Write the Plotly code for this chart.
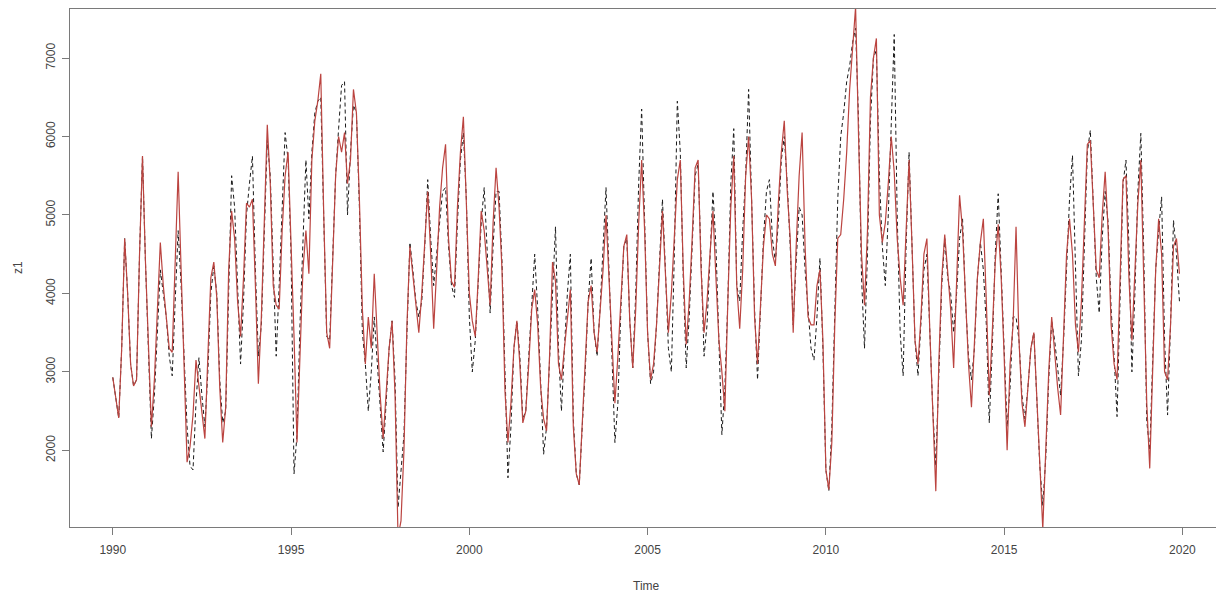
import plotly.graph_objects as go

# Monthly series, Jan 1990 .. Dec 2019
start_year = 1990
months_per_year = 12

# black dashed series (z1)
z1 = [
    2930, 2700, 2412, 3300, 4700, 4000, 3100, 2820, 2900, 4500, 5750, 4400,  # 1990
    3300, 2150, 2700, 3600, 4300, 4000, 3700, 3200, 2950, 3900, 4800, 4100,  # 1991
    3100, 2300, 1800, 1750, 2600, 3180, 2700, 2300, 3000, 4000, 4350, 4000,  # 1992
    2900, 2350, 2500, 4200, 5500, 5100, 4100, 3100, 3900, 5000, 5400, 5750,  # 1993
    4300, 3200, 3600, 4700, 5950, 5500, 4300, 3200, 4100, 5200, 6050, 5700,  # 1994
    4500, 1700, 2200, 3600, 4700, 5700, 4950, 5800, 6300, 6450, 6500, 5100,  # 1995
    3450, 3400, 4500, 5500, 6100, 6650, 6700, 5000, 5800, 6400, 6300, 5100,  # 1996
    3500, 3100, 2500, 3000, 3700, 3100, 2500, 1980, 2600, 3300, 3650, 2900,  # 1997
    1270, 1750, 2200, 3500, 4650, 4300, 3900, 3700, 3900, 4600, 5450, 4700,  # 1998
    4100, 4500, 4900, 5300, 5350, 4600, 4100, 3950, 4900, 5700, 6050, 5200,  # 1999
    3700, 3000, 3400, 4100, 4900, 5350, 4500, 3750, 4600, 5300, 5300, 4400,  # 2000
    3000, 1650, 2300, 3300, 3650, 3200, 2400, 2500, 3200, 3800, 4500, 3800,  # 2001
    2800, 1950, 2300, 3200, 4000, 4850, 3300, 2500, 3300, 4000, 4500, 2400,  # 2002
    1700, 1560, 2300, 3000, 3900, 4450, 3500, 3200, 3800, 4500, 5350, 4300,  # 2003
    3300, 2100, 2600, 3800, 4600, 4700, 3650, 3050, 4000, 5400, 6350, 5000,  # 2004
    3500, 2850, 3000, 3600, 4500, 5200, 4300, 3300, 3000, 4500, 6450, 5800,  # 2005
    4200, 3050, 3700, 4600, 5500, 5650, 4300, 3200, 3600, 4400, 5300, 4600,  # 2006
    3500, 2200, 2800, 3900, 5400, 6100, 4100, 3900, 4800, 5500, 6600, 5300,  # 2007
    3800, 2900, 3800, 4700, 5300, 5450, 4700, 4400, 4900, 5700, 6000, 5400,  # 2008
    4600, 3600, 4400, 5100, 5000, 4300, 3800, 3300, 3150, 3700, 4450, 3300,  # 2009
    1750, 1480, 2300, 3700, 5200, 6000, 6300, 6700, 6900, 7200, 7380, 6200,  # 2010
    4200, 3300, 4500, 6200, 7000, 7100, 5500, 4600, 4100, 5000, 6300, 7300,  # 2011
    5000, 3500, 2950, 4600, 5800, 4500, 3400, 2950, 3600, 4300, 4500, 3500,  # 2012
    2500, 1800, 3000, 4100, 4700, 4200, 4000, 3500, 4000, 4700, 4950, 3900,  # 2013
    3200, 2900, 3300, 4200, 4650, 4300, 3600, 2350, 3300, 4500, 5270, 4200,  # 2014
    3200, 2300, 2800, 3700, 3700, 3400, 2700, 2400, 2800, 3300, 3500, 2700,  # 2015
    1800, 1300, 1900, 2900, 3650, 3400, 3000, 2700, 3400, 4400, 5200, 5760,  # 2016
    4400, 2950, 3400, 4700, 5800, 6080, 5100, 4200, 3750, 4700, 5300, 4900,  # 2017
    3800, 3200, 2430, 4000, 5400, 5700, 4600, 3000, 4000, 5300, 6040, 4500,  # 2018
    2370, 2000, 3100, 4300, 4800, 5230, 3400, 2450, 3600, 4930, 4500, 3900,  # 2019
]

# red solid series (fitted)
fitted = [
    2930, 2700, 2412, 3300, 4700, 4000, 3100, 2820, 2900, 4500, 5750, 4400,  # 1990
    3350, 2300, 2900, 3900, 4650, 4100, 3650, 3300, 3250, 4500, 5550, 4300,  # 1991
    2950, 1850, 2050, 2450, 3150, 2800, 2450, 2150, 3200, 4200, 4400, 3950,  # 1992
    2800, 2100, 2550, 4300, 5050, 4700, 3900, 3450, 4200, 5150, 5100, 5200,  # 1993
    4100, 2850, 3700, 4900, 6150, 5400, 4100, 3850, 3800, 4800, 5500, 5800,  # 1994
    4700, 3450, 2100, 3200, 4300, 4800, 4250, 5700, 6200, 6450, 6800, 5000,  # 1995
    3500, 3300, 4500, 5500, 6000, 5800, 6050, 5400, 5700, 6600, 6300, 5200,  # 1996
    3800, 3100, 3700, 3300, 4250, 3500, 2700, 2150, 2700, 3300, 3650, 2700,  # 1997
    900, 1100, 2000, 3600, 4600, 4200, 3800, 3500, 4000, 4700, 5300, 4500,   # 1998
    3550, 4300, 5100, 5600, 5900, 4700, 4150, 4080, 5100, 5800, 6250, 5150,  # 1999
    4000, 3650, 3450, 4200, 5050, 4800, 4300, 3850, 4900, 5600, 5100, 4300,  # 2000
    2750, 2100, 2600, 3300, 3650, 3100, 2350, 2500, 3100, 3800, 4050, 3600,  # 2001
    2800, 2400, 2250, 3200, 4400, 4150, 3100, 2900, 3300, 3700, 4050, 2300,  # 2002
    1700, 1560, 2300, 3100, 3900, 4100, 3500, 3250, 3800, 4300, 5000, 4200,  # 2003
    3400, 2600, 3200, 3900, 4600, 4750, 3650, 3050, 3800, 4900, 5700, 4800,  # 2004
    3500, 2900, 3100, 3600, 4400, 5050, 4250, 3500, 4000, 4700, 5450, 5700,  # 2005
    4300, 3350, 3900, 4700, 5600, 5700, 4300, 3500, 3900, 4500, 5050, 4200,  # 2006
    3400, 3000, 2500, 3900, 5100, 5750, 4100, 3550, 4300, 5500, 6000, 5200,  # 2007
    3700, 3100, 3900, 4600, 5000, 4950, 4500, 4350, 5150, 5800, 6200, 5300,  # 2008
    4700, 3500, 4600, 5500, 6050, 4600, 3700, 3600, 3600, 4100, 4300, 3400,  # 2009
    1750, 1500, 2100, 3600, 4700, 4750, 5200, 5800, 6600, 7200, 7650, 6000,  # 2010
    4500, 3850, 4800, 6500, 7000, 7250, 5000, 4650, 4900, 5400, 6000, 5550,  # 2011
    4700, 4200, 3850, 4800, 5700, 4600, 3400, 3100, 3700, 4500, 4700, 3500,  # 2012
    2400, 1480, 3100, 4200, 4750, 4300, 3800, 3050, 4200, 5250, 4800, 3850,  # 2013
    3100, 2550, 3400, 4200, 4650, 4950, 3900, 2700, 3500, 4400, 4880, 4200,  # 2014
    3200, 2000, 3100, 3600, 4850, 3400, 2600, 2300, 2800, 3300, 3500, 2700,  # 2015
    1900, 1000, 2000, 3000, 3700, 3200, 2800, 2450, 3600, 4500, 4950, 4500,  # 2016
    3600, 3250, 3900, 5000, 5900, 5950, 5100, 4300, 4200, 5000, 5550, 4800,  # 2017
    3600, 3100, 2900, 4300, 5450, 5500, 4200, 3400, 4300, 5150, 5700, 4300,  # 2018
    2600, 1770, 3000, 4300, 4950, 4500, 3000, 2900, 3600, 4600, 4700, 4250,  # 2019
]

x_ticks = [1990, 1995, 2000, 2005, 2010, 2015, 2020]
y_ticks = [2000, 3000, 4000, 5000, 6000, 7000]

time = [start_year + k / months_per_year for k in range(len(z1))]

FONT = "Liberation Sans, Arial, sans-serif"
AXC = "#7a7a7a"
TXT = "#444444"

fig = go.Figure()
fig.add_trace(go.Scatter(x=time, y=z1, mode="lines",
                         line=dict(color="#1a1a1a", width=1.0, dash="4px,3px"),
                         showlegend=False, hoverinfo="skip"))
fig.add_trace(go.Scatter(x=time, y=fitted, mode="lines",
                         line=dict(color="#bb4440", width=1.2),
                         showlegend=False, hoverinfo="skip"))

fig.update_layout(
    width=1216, height=587,
    margin=dict(l=62, r=2, t=1, b=68),
    paper_bgcolor="white", plot_bgcolor="white",
    font=dict(family=FONT, size=12, color=TXT),
    xaxis=dict(range=[1988.80, 2021.11], tickvals=x_ticks, ticktext=[str(v) for v in x_ticks],
               showgrid=False, zeroline=False, showline=True, mirror=True,
               linecolor=AXC, linewidth=1, ticks="outside", ticklen=7, tickcolor=AXC,
               ticklabelstandoff=5,
               tickfont=dict(size=12, color=TXT)),
    yaxis=dict(range=[1023, 7625], tickvals=y_ticks, ticktext=[str(v) for v in y_ticks],
               showgrid=False, zeroline=False, showline=True, mirror=True,
               linecolor=AXC, linewidth=1, ticks="outside", ticklen=7, tickcolor=AXC,
               tickangle=-90, ticklabelstandoff=2,
               tickfont=dict(size=12, color=TXT)),
    annotations=[
        dict(text="Time", xref="paper", yref="paper", x=0.5, y=0, yshift=-59,
             showarrow=False, font=dict(size=12, color=TXT), yanchor="middle"),
        dict(text="z1", xref="paper", yref="paper", x=0, y=0.5, xshift=-52,
             showarrow=False, textangle=-90, font=dict(size=12, color=TXT),
             xanchor="center"),
    ],
)

fig.write_html("out.html")
